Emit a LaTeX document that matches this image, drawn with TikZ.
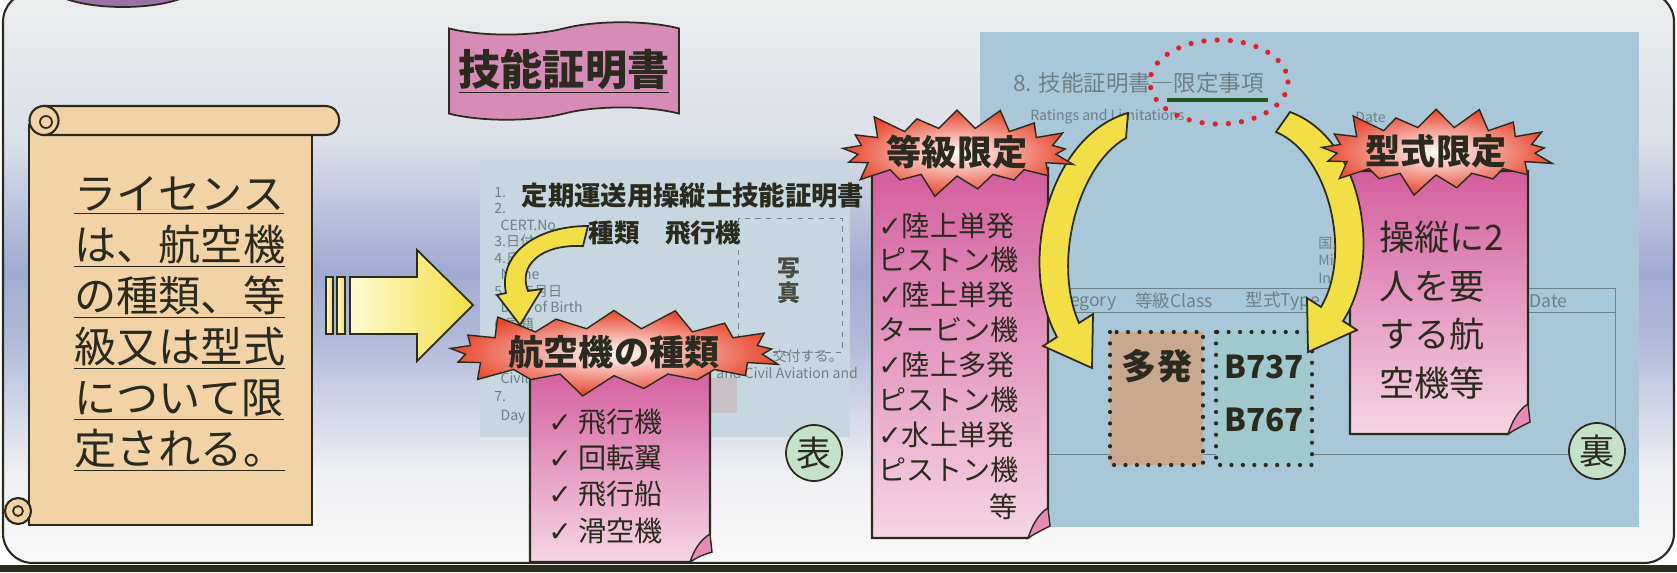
\documentclass[tikz,border=0pt]{standalone}
\usepackage{fontspec}
\setmainfont{Noto Sans CJK JP}
\newfontfamily\symfont{DejaVu Sans}
\usetikzlibrary{shapes.symbols}

\definecolor{inkDark}{HTML}{2A2A1E}
\definecolor{bgTop}{HTML}{ECEEEE}
\definecolor{bgUpper}{HTML}{DCE0E8}
\definecolor{bgBand}{HTML}{A0AAD2}
\definecolor{bgLower}{HTML}{B2BAD9}
\definecolor{bgLight}{HTML}{EEEFF2}
\definecolor{scrollTan}{HTML}{F2D3A6}
\definecolor{ribbonPink}{HTML}{D78CB8}
\definecolor{tabPurple}{HTML}{9A72A6}
\definecolor{frontCard}{HTML}{C6D7DF}
\definecolor{backCard}{HTML}{A8C8DA}
\definecolor{notePinkTop}{HTML}{D45E9E}
\definecolor{notePinkBot}{HTML}{F5D6E4}
\definecolor{flapPink}{HTML}{E68AB8}
\definecolor{burstRed}{HTML}{E8452C}
\definecolor{arrowYellow}{HTML}{F1DF45}
\definecolor{arrowCream}{HTML}{FFF9D2}
\definecolor{sealGreen}{HTML}{C3E2C8}
\definecolor{dotRed}{HTML}{E0202E}
\definecolor{boxTan}{HTML}{C8A88E}
\definecolor{boxTeal}{HTML}{9FC9CD}
\definecolor{faintInk}{HTML}{6E8088}

\newcommand{\chk}{{\symfont ✓}}

\tikzset{
  paper/.style={draw=inkDark, line width=1.2pt, fill=scrollTan},
  bigArrow/.style={draw=inkDark, line width=1pt, left color=arrowCream, right color=arrowYellow},
  curveArrow/.style={draw=inkDark, line width=1pt, fill=arrowYellow},
  burst/.style={shape=starburst, draw=inkDark, line width=0.8pt, inner color=white, outer color=burstRed,
    starburst point height=0.5cm, inner sep=0pt, text=inkDark, font=\bfseries\fontsize{20}{24}\selectfont},
  pinkNote/.style={draw=inkDark, line width=1.2pt, top color=notePinkTop, bottom color=notePinkBot},
  noteFlap/.style={draw=inkDark, line width=0.8pt, fill=flapPink},
  faint/.style={text=faintInk, font=\fontsize{8}{9}\selectfont, inner sep=0pt},
  dotBox/.style={draw=inkDark, line width=2.4pt, dash pattern=on 0pt off 6.5pt, line cap=round},
  seal/.style={circle, draw=inkDark, line width=1pt, fill=sealGreen, minimum size=1.12cm, inner sep=0pt,
    text=inkDark, font=\fontsize{20}{20}\selectfont},
}

\begin{document}
\begin{tikzpicture}[x=0.02cm, y=-0.02cm]
  \useasboundingbox (0,0) rectangle (1677,572);
  \fill[inkDark] (0,565) rectangle (1677,572);
  \begin{scope}
    \clip[rounded corners=17pt] (3,-8) rectangle (1674,563);
    \shade[top color=bgTop, bottom color=bgUpper] (0,-10) rectangle (1677,141);
    \shade[top color=bgUpper, bottom color=bgBand] (0,140) rectangle (1677,271);
    \shade[top color=bgBand, bottom color=bgLower] (0,270) rectangle (1677,341);
    \shade[top color=bgLower, bottom color=bgLight] (0,340) rectangle (1677,471);
    \shade[top color=bgLight, bottom color=white!96!gray] (0,470) rectangle (1677,570);
    \draw[fill=tabPurple, draw=inkDark, line width=1pt] (123,-16) ellipse [x radius=75, y radius=23];
  \end{scope}
  \draw[inkDark, line width=1.2pt, rounded corners=17pt] (3,-8) rectangle (1674,563);

  \node[tape, draw=inkDark, line width=1pt, fill=ribbonPink, minimum width=4.6cm, minimum height=1.95cm,
    tape bend height=7pt, text=inkDark, font=\bfseries\fontsize{24}{24}\selectfont] (certTitle) at (564,71) {$\underline{\hbox{技能証明書}}$};

  % scroll
  \draw[paper] (29,125) rectangle (312,525);
  \draw[paper] (18,511) circle [radius=13];
  \draw[inkDark, line width=1pt] (18,511) circle [radius=5];
  \draw[paper] (44,106) -- (325,106) .. controls (344,106) and (344,135) .. (325,135) -- (44,135) -- cycle;
  \draw[paper] (44,120.5) circle [radius=14.5];
  \draw[inkDark, line width=1pt] (46,122) circle [radius=6];
  \node[anchor=north west, align=left, inner sep=0pt, text=inkDark, font=\fontsize{24}{29}\selectfont] (licenseText) at (74,176)
    {$\underline{\hbox{ライセンス}}$\\$\underline{\hbox{は、航空機}}$\\$\underline{\hbox{の種類、等}}$\\
     $\underline{\hbox{級又は型式}}$\\$\underline{\hbox{について限}}$\\$\underline{\hbox{定される。}}$};

  \draw[bigArrow] (326,277) rectangle (333,334);
  \draw[bigArrow] (337,277) rectangle (345,334);
  \draw[bigArrow] (350,277) -- (417,277) -- (417,250) -- (473,305) -- (417,361) -- (417,334) -- (350,334) -- cycle;

  % front side
  \fill[frontCard] (480,160) rectangle (850,437);
  \draw[faintInk, dashed, thin] (738,218) rectangle (842,352);
  \node[faint, anchor=north west, align=left, font=\fontsize{8}{9.4}\selectfont] (frontFields) at (494,187)
    {1.\\2.\\\ \ CERT.No.\\3.日付\\4.氏名\\\ \ Name\\5.生年月日\\\ \ Date of Birth\\6.国籍};
  \node[faint, anchor=north west, align=left, font=\fontsize{8}{10.5}\selectfont] (frontIssue) at (494,372)
    {\ \ Civil\\7.\\\ \ Day of};
  \node[faint, anchor=west, align=left, font=\fontsize{8}{10}\selectfont] (issueText) at (716,364) {に従い、交付する。\\and Civil Aviation and};
  \fill[pink!60!gray, opacity=0.45] (705,378) rectangle (737,413);
  \node[text=inkDark, font=\bfseries\fontsize{15}{18}\selectfont] (frontTitle) at (693,195) {定期運送用操縦士技能証明書};
  \node[text=inkDark, font=\bfseries\fontsize{14.5}{18}\selectfont] (frontKind) at (665,233) {種類　飛行機};
  \node[text=inkDark!85, align=center, font=\bfseries\fontsize{13}{14}\selectfont] (photoLabel) at (789,281) {写\\真};

  \draw[pinkNote] (530,367) -- (710,367) -- (710,534) .. controls (704,550) .. (690,562) -- (530,562) -- cycle;
  \draw[noteFlap] (710,534) .. controls (700,540) and (694,550) .. (690,562) .. controls (700,556) .. (712,552) -- cycle;
  \node[anchor=north west, align=left, inner sep=0pt, text=inkDark, font=\fontsize{16}{20.7}\selectfont] (kindList) at (548,408)
    {\chk\ 飛行機\\\chk\ 回転翼\\\chk\ 飛行船\\\chk\ 滑空機};
  \node[burst, minimum width=5.0cm, minimum height=1.85cm] (kindBurst) at (614,352) {航空機の種類};
  \draw[curveArrow] (588,226) .. controls (535,226) and (498,255) .. (506,293) -- (497,295) -- (520,325)
    -- (542,289) -- (528,291) .. controls (518,266) and (540,244) .. (583,246) -- cycle;
  \node[seal] (frontSeal) at (814,453) {表};

  % back side
  \fill[backCard] (980,32) rectangle (1639,527);
  \node[anchor=west, inner sep=0pt, text=faintInk, font=\fontsize{12.8}{14}\selectfont] (limitHead) at (1013,83) {8. 技能証明書―限定事項};
  \draw[inkDark!80!green, line width=2.5pt] (1167,100) -- (1268,100);
  \node[faint, anchor=west] (ratingsEn) at (1030,117) {Ratings and Limitations};
  \node[faint, anchor=west] (dateEn) at (1355,117) {Date};
  \node[faint, anchor=east] (nameBack) at (1064,212) {Name};
  \node[faint, anchor=north west, align=left, font=\fontsize{8}{10}\selectfont] (ministerText) at (1318,236)
    {国土\\Mini\\Infra};
  \draw[faintInk, thin] (1048,288) rectangle (1615,454);
  \draw[faintInk, thin] (1048,312) -- (1615,312);
  \node[faint, font=\fontsize{10}{12}\selectfont] (catHead) at (1062,301) {種類Category};
  \node[faint, font=\fontsize{10}{12}\selectfont] (classHead) at (1174,301) {等級Class};
  \node[faint, font=\fontsize{10}{12}\selectfont] (typeHead) at (1283,301) {型式Type};
  \node[faint, font=\fontsize{10}{12}\selectfont, anchor=east] (dateHead) at (1568,301) {年月日 Date};
  \draw[dotBox, fill=boxTan] (1110,332) rectangle (1203,465);
  \draw[dotBox, fill=boxTeal] (1216,332) rectangle (1312,465);
  \node[text=inkDark, font=\bfseries\fontsize{20}{24}\selectfont] (multiEngine) at (1157,366) {多発};
  \node[text=inkDark, font=\bfseries\fontsize{18}{20}\selectfont] (typeA) at (1264,367) {B737};
  \node[text=inkDark, font=\bfseries\fontsize{18}{20}\selectfont] (typeB) at (1264,420) {B767};
  \draw[dotBox, draw=dotRed, line width=3pt, dash pattern=on 0pt off 7.5pt] (1219,82) ellipse [x radius=69, y radius=42];

  \draw[pinkNote] (872,168) -- (1048,168) -- (1048,508) .. controls (1042,524) .. (1028,538) -- (872,538) -- cycle;
  \draw[noteFlap] (1048,508) .. controls (1038,514) and (1032,526) .. (1028,538) .. controls (1038,532) .. (1050,526) -- cycle;
  \node[anchor=north west, align=left, inner sep=0pt, text=inkDark, font=\fontsize{16}{19.9}\selectfont] (classList) at (878,212)
    {\chk 陸上単発\\ピストン機\\\chk 陸上単発\\タービン機\\\chk 陸上多発\\ピストン機\\\chk 水上単発\\ピストン機};
  \node[anchor=east, inner sep=0pt, text=inkDark, font=\fontsize{16}{19.9}\selectfont] (classEtc) at (1018,507) {等};

  \draw[pinkNote] (1350,171) -- (1528,171) -- (1528,404) .. controls (1522,420) .. (1508,434) -- (1350,434) -- cycle;
  \draw[noteFlap] (1528,404) .. controls (1518,410) and (1512,422) .. (1508,434) .. controls (1518,428) .. (1530,422) -- cycle;
  \node[anchor=north west, align=left, inner sep=0pt, text=inkDark, font=\fontsize{20}{27.6}\selectfont] (typeNote) at (1379,221)
    {操縦に2\\人を要\\する航\\空機等};

  \draw[curveArrow] (1128,113) .. controls (1050,135) and (1016,262) .. (1057,337) -- (1043,346) -- (1092,368)
    -- (1093,314) -- (1079,323) .. controls (1052,262) and (1078,165) .. (1126,138) -- cycle;
  \draw[curveArrow] (1290,112) .. controls (1362,138) and (1384,258) .. (1343,321) -- (1357,330) -- (1308,352)
    -- (1307,298) -- (1321,307) .. controls (1352,255) and (1330,155) .. (1276,132) -- cycle;

  \node[burst, minimum width=3.86cm, minimum height=1.86cm] (classBurst) at (957,152) {等級限定};
  \node[burst, minimum width=3.9cm, minimum height=1.9cm] (typeBurst) at (1436,151) {型式限定};
  \node[seal] (backSeal) at (1597,451) {裏};
\end{tikzpicture}
\end{document}
